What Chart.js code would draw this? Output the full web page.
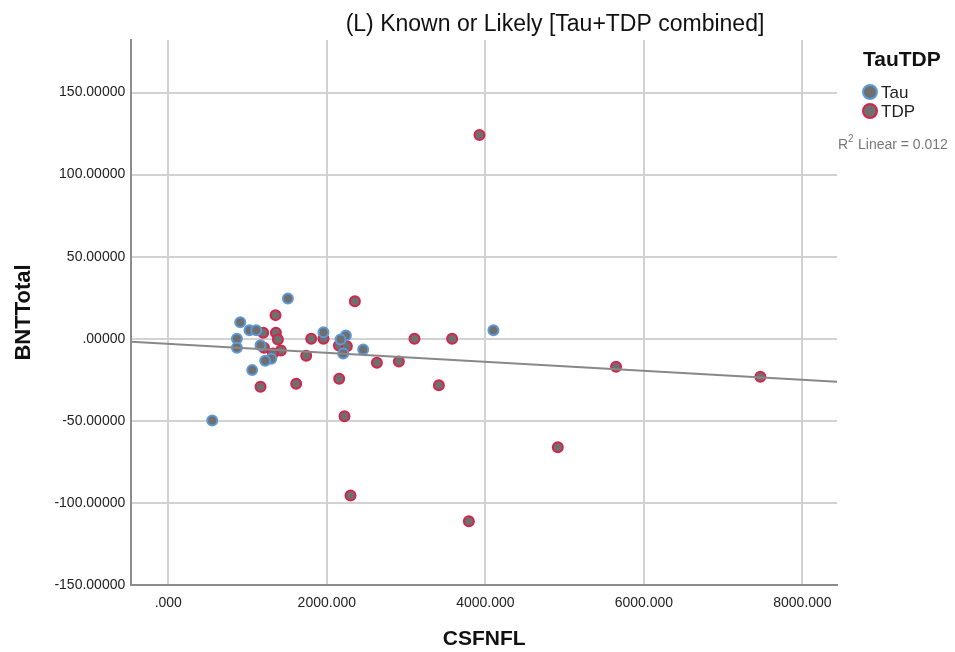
<!DOCTYPE html>
<html>
<head>
<meta charset="utf-8">
<script src="https://cdn.jsdelivr.net/npm/chart.js@4.4.1/dist/chart.umd.min.js"></script>
<style>
  html, body { margin: 0; padding: 0; background: #fff; }
</style>
</head>
<body>
<canvas id="chart" width="955" height="652"></canvas>
<script>
// values (CSFNFL, BNTTotal)
const tauX = [1509, 908, 1025, 1110, 1958, 2241, 866, 2173, 866, 1164, 2459, 1299, 1223, 2207, 1059, 4102, 555];
const tauY = [24.6, 10.1, 5.2, 5.2, 4.0, 2.0, 0.0, -0.4, -5.5, -3.9, -6.5, -12.2, -13.4, -9.0, -19.1, 5.2, -49.8];

const tdpX = [2354, 1353, 1198, 1358, 1383, 1803, 1958, 1207, 2153, 2253, 1421, 1320, 1740, 2632,
              1164, 1614, 2156, 3106, 3581, 2909, 3414, 2223, 3926, 2299, 3792, 5649, 7469, 4914];
const tdpY = [22.9, 14.4, 3.7, 3.7, -0.4, 0.0, 0.0, -5.5, -4.1, -4.5, -7.1, -9.0, -10.4, -14.6,
              -29.3, -27.4, -24.4, 0.0, 0.0, -13.8, -28.3, -47.2, 124.1, -95.5, -111.2, -17.1, -23.2, -66.1];

// fit line (R2 linear = 0.012), endpoints at the axis edges
const fitX = [-467, 8436];
const fitY = [-1.8, -26.2];

const xTicks = [0, 2000, 4000, 6000, 8000];
const yTicks = [-150, -100, -50, 0, 50, 100, 150];

const toPts = (xs, ys) => xs.map((x, i) => ({ x, y: ys[i] }));

const GRAY = "#6f6f6f";
const BLUE = "#5d9ad8";
const RED = "#d6234c";
const FONT = "'Liberation Sans', Arial, sans-serif";

function fmt(v, digits) {
  let s = v.toFixed(digits);
  if (s.startsWith("0.")) s = s.slice(1);
  if (s.startsWith("-0.")) s = "-" + s.slice(2);
  return s;
}

// title + legend drawn by hand to sit where SPSS puts them
const extras = {
  id: "extras",
  afterDraw(chart) {
    const ctx = chart.ctx;
    ctx.save();
    ctx.fillStyle = "#111";
    ctx.font = "23px " + FONT;
    ctx.textAlign = "center";
    ctx.textBaseline = "middle";
    ctx.fillText("(L) Known or Likely [Tau+TDP combined]", 555, 25);

    ctx.textAlign = "left";
    ctx.font = "bold 21px " + FONT;
    ctx.fillText("TauTDP", 863, 60);

    const items = [["Tau", BLUE, 92], ["TDP", RED, 111]];
    items.forEach(([label, color, y]) => {
      ctx.beginPath();
      ctx.arc(870, y, 7, 0, Math.PI * 2);
      ctx.fillStyle = GRAY;
      ctx.fill();
      ctx.lineWidth = 2;
      ctx.strokeStyle = color;
      ctx.stroke();
      ctx.fillStyle = "#222";
      ctx.font = "17px " + FONT;
      ctx.fillText(label, 881, y + 1);
    });

    ctx.fillStyle = "#777";
    ctx.font = "14px " + FONT;
    ctx.fillText("R", 838, 145);
    ctx.font = "10px " + FONT;
    ctx.fillText("2", 848, 139);
    ctx.font = "14px " + FONT;
    ctx.fillText("Linear = 0.012", 858, 145);
    ctx.restore();
  }
};

new Chart(document.getElementById("chart"), {
  type: "scatter",
  data: {
    datasets: [
      {
        label: "fit",
        data: toPts(fitX, fitY),
        showLine: true,
        pointRadius: 0,
        borderColor: "#888888",
        borderWidth: 2
      },
      {
        label: "Tau",
        data: toPts(tauX, tauY),
        pointRadius: 5,
        pointBackgroundColor: GRAY,
        pointBorderColor: BLUE,
        pointBorderWidth: 2
      },
      {
        label: "TDP",
        data: toPts(tdpX, tdpY),
        pointRadius: 5,
        pointBackgroundColor: GRAY,
        pointBorderColor: RED,
        pointBorderWidth: 2
      }
    ]
  },
  options: {
    responsive: false,
    animation: false,
    layout: { padding: { top: 40, right: 118, left: 8, bottom: 0 } },
    plugins: {
      legend: { display: false },
      tooltip: { enabled: false }
    },
    scales: {
      x: {
        type: "linear",
        min: -467,
        max: 8436,
        afterBuildTicks: (axis) => { axis.ticks = xTicks.map(v => ({ value: v })); },
        grid: { color: "#d2d2d2", lineWidth: 2, drawTicks: false },
        border: { color: "#8c8c8c", width: 2 },
        ticks: {
          color: "#222",
          font: { family: FONT, size: 14 },
          padding: 10,
          autoSkip: false,
          maxRotation: 0,
          callback: (v) => fmt(v, 3)
        },
        title: {
          display: true,
          text: "CSFNFL",
          color: "#111",
          font: { family: FONT, size: 21, weight: "bold" },
          padding: { top: 5, bottom: 0 }
        }
      },
      y: {
        type: "linear",
        min: -150,
        max: 182,
        afterBuildTicks: (axis) => { axis.ticks = yTicks.map(v => ({ value: v })); },
        grid: { color: "#d2d2d2", lineWidth: 2, drawTicks: false },
        border: { color: "#8c8c8c", width: 2 },
        ticks: {
          color: "#222",
          font: { family: FONT, size: 14 },
          padding: 6,
          autoSkip: false,
          callback: (v) => fmt(v, 5)
        },
        title: {
          display: true,
          text: "BNTTotal",
          color: "#111",
          font: { family: FONT, size: 22, weight: "bold" },
          padding: { top: 3, bottom: 11 }
        }
      }
    }
  },
  plugins: [extras]
});
</script>
</body>
</html>
